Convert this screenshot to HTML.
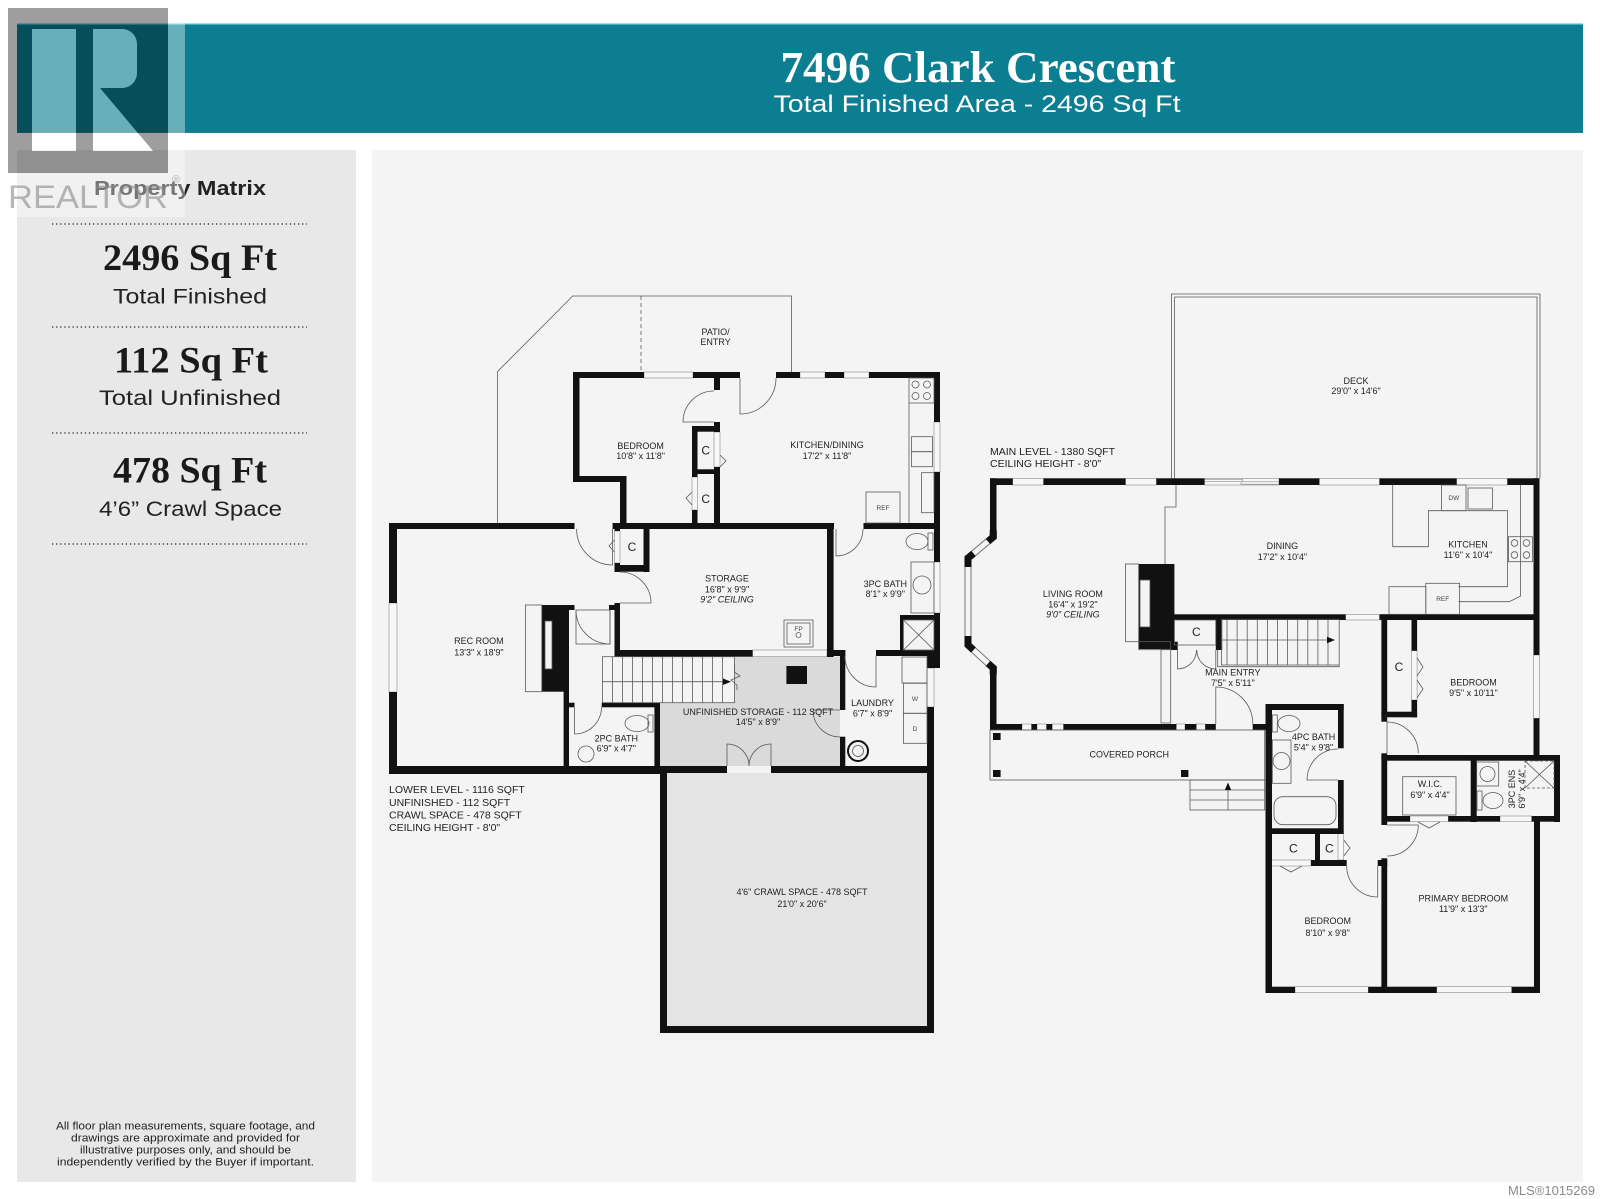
<!DOCTYPE html>
<html><head><meta charset="utf-8"><title>7496 Clark Crescent</title>
<style>
html,body{margin:0;padding:0;background:#fff;}
svg{display:block;}
.k{fill:#111;}
.t{fill:none;stroke:#5a5a5a;stroke-width:.8;}
.w{fill:#f7f7f7;stroke:#8a8a8a;stroke-width:.6;}
.l{font-family:"Liberation Sans",sans-serif;font-size:9px;fill:#222;text-anchor:middle;}
.c{font-family:"Liberation Sans",sans-serif;font-size:12px;fill:#222;text-anchor:middle;}
.s{font-family:"Liberation Sans",sans-serif;font-size:6.5px;fill:#444;text-anchor:middle;}
.i{font-style:italic;}
.info{font-family:"Liberation Sans",sans-serif;font-size:10.5px;fill:#222;}
</style></head>
<body>
<svg width="1600" height="1199" viewBox="0 0 1600 1199" xmlns="http://www.w3.org/2000/svg">
<rect width="1600" height="1199" fill="#fff"/>

<!-- header -->
<rect x="17" y="23.5" width="1566" height="109.5" fill="#0b7e92"/>
<rect x="17" y="23.5" width="1566" height="1.3" fill="#4cbccb"/>
<rect x="17" y="132" width="1566" height="1" fill="#2d7d8a"/>
<text x="978" y="82" font-family="Liberation Serif,serif" font-weight="bold" font-size="44" fill="#fff" text-anchor="middle" textLength="395" lengthAdjust="spacingAndGlyphs">7496 Clark Crescent</text>
<text x="977" y="112" font-family="Liberation Sans,sans-serif" font-size="24" fill="#fff" text-anchor="middle" textLength="407" lengthAdjust="spacingAndGlyphs">Total Finished Area - 2496 Sq Ft</text>

<!-- panels -->
<rect x="17" y="150" width="339" height="1032" fill="#e8e8e8"/>
<rect x="372" y="150" width="1211" height="1032" fill="#f4f4f4"/>

<!-- left panel text -->
<text x="180" y="195" font-family="Liberation Sans,sans-serif" font-weight="bold" font-size="20" fill="#222" text-anchor="middle" textLength="172" lengthAdjust="spacingAndGlyphs">Property Matrix</text>
<g stroke="#444" stroke-width="1.4" stroke-dasharray="1.3,2.8">
<line x1="52" y1="224" x2="307" y2="224"/>
<line x1="52" y1="327" x2="307" y2="327"/>
<line x1="52" y1="433" x2="307" y2="433"/>
<line x1="52" y1="544" x2="307" y2="544"/>
</g>
<g font-family="Liberation Serif,serif" font-weight="bold" font-size="37" fill="#1a1a1a" text-anchor="middle">
<text x="190" y="270" textLength="174" lengthAdjust="spacingAndGlyphs">2496 Sq Ft</text>
<text x="191" y="372.5" textLength="154" lengthAdjust="spacingAndGlyphs">112 Sq Ft</text>
<text x="190" y="482.5" textLength="154" lengthAdjust="spacingAndGlyphs">478 Sq Ft</text>
</g>
<g font-family="Liberation Sans,sans-serif" font-size="21" fill="#222" text-anchor="middle">
<text x="190" y="303.5" textLength="154" lengthAdjust="spacingAndGlyphs">Total Finished</text>
<text x="190" y="405" textLength="182" lengthAdjust="spacingAndGlyphs">Total Unfinished</text>
<text x="190.5" y="516" textLength="183" lengthAdjust="spacingAndGlyphs">4’6” Crawl Space</text>
</g>
<g font-family="Liberation Sans,sans-serif" font-size="11" fill="#222" text-anchor="middle">
<text x="185.5" y="1129.5" textLength="259" lengthAdjust="spacingAndGlyphs">All floor plan measurements, square footage, and</text>
<text x="185.5" y="1141.5" textLength="229" lengthAdjust="spacingAndGlyphs">drawings are approximate and provided for</text>
<text x="185.5" y="1153.5" textLength="211" lengthAdjust="spacingAndGlyphs">illustrative purposes only, and should be</text>
<text x="185.5" y="1165.5" textLength="257" lengthAdjust="spacingAndGlyphs">independently verified by the Buyer if important.</text>
</g>
<text x="1508" y="1195" font-family="Liberation Sans,sans-serif" font-size="13" fill="#8a8a8a" textLength="87" lengthAdjust="spacingAndGlyphs">MLS®1015269</text>

<!-- ================= LOWER LEVEL ================= -->
<!-- patio -->
<path class="t" d="M497.4,523 V371.7 L572.7,296 H791.5 V372"/>
<line class="t" x1="641" y1="296" x2="641" y2="372" stroke-dasharray="4,3"/>
<text class="l" x="715.6" y="335">PATIO/</text>
<text class="l" x="715.6" y="345">ENTRY</text>

<!-- fills -->
<path d="M734.4,656.7 H840 V766 H660 V702.7 H734.4 Z" fill="#dadada"/>
<rect x="667" y="773" width="260" height="253" fill="#e4e4e4"/>

<!-- windows lower -->
<rect class="w" x="644" y="372" width="49" height="6"/>
<rect class="w" x="800" y="372" width="25" height="6"/>
<rect class="w" x="844" y="372" width="25" height="6"/>
<rect class="w" x="934" y="422" width="6" height="50"/>
<rect class="w" x="389" y="603" width="8" height="89"/>
<rect class="w" x="934" y="562" width="6" height="51"/>
<rect class="w" x="927" y="668" width="7" height="39"/>
<rect class="w" x="714" y="432" width="6" height="35"/>
<rect class="w" x="692" y="477" width="5.5" height="33"/>
<rect class="w" x="752.6" y="650" width="74.4" height="6.7"/>
<rect class="w" x="614.5" y="531" width="5.5" height="32"/>

<!-- walls lower -->
<g class="k">
<rect x="573" y="372" width="71" height="6"/>
<rect x="693" y="372" width="47" height="6"/>
<rect x="776" y="372" width="24" height="6"/>
<rect x="825" y="372" width="19" height="6"/>
<rect x="869" y="372" width="71" height="6"/>
<rect x="573" y="372" width="6.5" height="110"/>
<rect x="573" y="476" width="53.5" height="6"/>
<rect x="620" y="476" width="6.5" height="50"/>
<rect x="714" y="372" width="6" height="18"/>
<rect x="714" y="422" width="6" height="10"/>
<rect x="714" y="467" width="6" height="59"/>
<rect x="692" y="426" width="5.5" height="51"/>
<rect x="692" y="510" width="5.5" height="16"/>
<rect x="692" y="426" width="28" height="5.7"/>
<rect x="692" y="469.3" width="28" height="4.7"/>
<rect x="934" y="372" width="6" height="50"/>
<rect x="934" y="472" width="6" height="54"/>
<rect x="389" y="523" width="185.5" height="6"/>
<rect x="612.6" y="523" width="221.4" height="6"/>
<rect x="863.5" y="523" width="76.5" height="6"/>
<rect x="389" y="523" width="8" height="80"/>
<rect x="389" y="692" width="8" height="82"/>
<rect x="389" y="766" width="278" height="8"/>
<rect x="660" y="766" width="7" height="267"/>
<rect x="660" y="766" width="67" height="7"/>
<rect x="771" y="766" width="163" height="7"/>
<rect x="927" y="766" width="7" height="267"/>
<rect x="660" y="1026" width="274" height="7"/>
<rect x="934" y="523" width="6" height="39"/>
<rect x="934" y="613" width="6" height="49"/>
<rect x="927" y="656" width="13" height="12"/>
<rect x="927" y="707" width="7" height="60"/>
<rect x="643.5" y="523" width="6" height="49"/>
<rect x="614.5" y="565" width="35" height="6.7"/>
<rect x="614.5" y="523" width="5.5" height="8"/>
<rect x="614.5" y="563" width="5.5" height="9"/>
<rect x="614.5" y="603" width="5.5" height="54"/>
<rect x="562" y="605" width="12.5" height="5"/>
<rect x="609" y="605" width="11" height="5"/>
<rect x="614.5" y="650" width="138" height="6.7"/>
<rect x="827" y="523" width="6.6" height="134"/>
<rect x="827" y="650" width="18.3" height="6"/>
<rect x="876" y="650" width="64" height="6"/>
<rect x="900" y="615" width="40" height="5"/>
<rect x="900" y="615" width="3.5" height="35"/>
<rect x="840" y="650" width="5.3" height="60"/>
<rect x="840" y="736.7" width="5.3" height="30"/>
<rect x="541.8" y="605" width="27.2" height="86.7"/>
<rect x="563.6" y="691" width="5.4" height="75"/>
<rect x="569" y="702.7" width="5.5" height="4.6"/>
<rect x="601.7" y="702.7" width="58.3" height="4.6"/>
<rect x="654.4" y="702.7" width="5.6" height="64"/>
<rect x="786.4" y="666" width="20.6" height="18"/>
</g>

<!-- lower fixtures -->
<g class="t">
<path d="M740,378 V414 A36,36 0 0 0 776,378"/>
<path d="M714,422 H683 A31,31 0 0 1 714,391"/>
<path d="M612.6,529 V565 A36,36 0 0 1 576.6,529"/>
<path d="M836,529 V556 A27,27 0 0 0 863,529"/>
<path d="M620,603 H651 A31,31 0 0 0 620,572"/>
<path d="M610,610 V644 A34,34 0 0 1 576,610"/>
<path d="M574.5,707.3 V734 A27,27 0 0 0 601.5,707.3"/>
<path d="M876,656 V687 A31,31 0 0 1 845,656"/>
<path d="M840,710 H813 A27,27 0 0 0 840,737"/>
<path d="M727,766 V744 A22,22 0 0 1 749,766"/>
<path d="M771,766 V744 A22,22 0 0 0 749,766"/>
<polyline points="720,455 726,461 720,467"/>
<polyline points="692,492 686,498 692,505"/>
<polyline points="614.5,540 609,546 614.5,552"/>
<rect x="909" y="378" width="25" height="25"/>
<circle cx="915.5" cy="384.5" r="3.5"/><circle cx="927" cy="384.5" r="3.5"/>
<circle cx="915.5" cy="396" r="3.5"/><circle cx="927" cy="396" r="3.5"/>
<line x1="909" y1="403" x2="909" y2="523"/>
<rect x="911.5" y="436.7" width="21" height="15"/>
<rect x="911.5" y="451.7" width="21" height="15"/>
<rect x="921.6" y="472.7" width="12.4" height="40"/>
<rect x="866" y="492" width="34" height="31"/>
<rect x="525.4" y="605" width="16.4" height="86.7"/>
<rect x="784" y="620" width="29" height="27"/>
<rect x="787" y="623" width="23" height="21"/>
<circle cx="798.5" cy="635" r="2.5"/>
<rect x="928" y="533" width="5" height="17"/>
<ellipse cx="917" cy="541.5" rx="11" ry="8"/>
<rect x="911" y="562" width="23" height="51"/>
<circle cx="922" cy="585" r="9"/>
<rect x="903.4" y="620" width="30.6" height="30"/>
<path d="M903.4,620 L934,650 M934,620 L903.4,650"/>
<rect x="902" y="657" width="25" height="26"/>
<rect x="903.4" y="683.3" width="23.6" height="30"/>
<rect x="903.4" y="713.3" width="23.6" height="30"/>
<rect x="648" y="715" width="5" height="17"/>
<ellipse cx="637" cy="723.5" rx="12" ry="8"/>
<circle cx="586" cy="754" r="8"/>
<rect x="602.5" y="656.7" width="132" height="46"/>
<path d="M612.6,656.7V702.7M622.6,656.7V702.7M632.6,656.7V702.7M642.6,656.7V702.7M652.6,656.7V702.7M662.6,656.7V702.7M672.6,656.7V702.7M682.6,656.7V702.7M692.6,656.7V702.7M702.6,656.7V702.7M712.6,656.7V702.7M722.6,656.7V702.7"/>
<line x1="602.5" y1="681.7" x2="727" y2="681.7"/>
<polyline points="734.4,664 734.4,672 740,676 731,680 737,685 737,690"/>
<rect x="576" y="610" width="34" height="34"/>
</g>
<circle cx="858" cy="751" r="10" fill="none" stroke="#111" stroke-width="2"/>
<circle cx="858" cy="751" r="5.5" fill="none" stroke="#555" stroke-width=".8"/>
<rect x="545" y="621" width="7" height="48" fill="#f4f4f4" stroke="#555" stroke-width=".8"/>
<polygon points="723,678.5 731,681.7 723,685" fill="#111"/>
<text class="s" x="883" y="510">REF</text>
<text class="s" x="915" y="701">W</text>
<text class="s" x="915" y="731">D</text>
<text class="s" x="798.5" y="631" font-size="4.5">FP</text>

<!-- lower labels -->
<text class="l" x="640.6" y="449">BEDROOM</text>
<text class="l" x="640.6" y="459">10'8" x 11'8"</text>
<text class="l" x="827" y="448">KITCHEN/DINING</text>
<text class="l" x="827" y="459">17'2" x 11'8"</text>
<text class="c" x="705.7" y="454.5">C</text>
<text class="c" x="705.7" y="502.8">C</text>
<text class="c" x="632" y="551">C</text>
<text class="l" x="478.9" y="644">REC ROOM</text>
<text class="l" x="478.9" y="655.5">13'3" x 18'9"</text>
<text class="l" x="727" y="581.5">STORAGE</text>
<text class="l" x="727" y="592.5">16'8" x 9'9"</text>
<text class="l i" x="727" y="602.5">9'2" CEILING</text>
<text class="l" x="885.3" y="587">3PC BATH</text>
<text class="l" x="885.3" y="597">8'1" x 9'9"</text>
<text class="l" x="758" y="715">UNFINISHED STORAGE - 112 SQFT</text>
<text class="l" x="758" y="725">14'5" x 8'9"</text>
<text class="l" x="872.5" y="706">LAUNDRY</text>
<text class="l" x="872.5" y="716.5">6'7" x 8'9"</text>
<text class="l" x="616.3" y="741.5">2PC BATH</text>
<text class="l" x="616.3" y="751.5">6'9" x 4'7"</text>
<text class="l" x="802" y="895">4'6" CRAWL SPACE - 478 SQFT</text>
<text class="l" x="802" y="907">21'0" x 20'6"</text>
<text class="info" x="389" y="793">LOWER LEVEL - 1116 SQFT</text>
<text class="info" x="389" y="806">UNFINISHED - 112 SQFT</text>
<text class="info" x="389" y="818.5">CRAWL SPACE - 478 SQFT</text>
<text class="info" x="389" y="831">CEILING HEIGHT - 8'0"</text>

<!-- ================= MAIN LEVEL ================= -->
<!-- deck (double line) -->
<path class="t" d="M1171.4,478.3 V294 H1540 V478.3"/>
<path class="t" d="M1174.6,478.3 V297 H1537 V478.3"/>
<text class="l" x="1356" y="384">DECK</text>
<text class="l" x="1356" y="394">29'0" x 14'6"</text>
<text class="info" x="990" y="455">MAIN LEVEL - 1380 SQFT</text>
<text class="info" x="990" y="467">CEILING HEIGHT - 8'0"</text>

<!-- windows main -->
<rect class="w" x="1012.7" y="478.3" width="30.8" height="6.7"/>
<rect class="w" x="1125.5" y="478.3" width="30.9" height="6.7"/>
<rect class="w" x="1319.3" y="478.3" width="60.2" height="6.7"/>
<rect class="w" x="1456.6" y="478.3" width="50.8" height="6.7"/>
<rect class="w" x="1204.5" y="478.3" width="74.5" height="6.7"/>
<rect class="w" x="1204.5" y="479.3" width="38" height="2.4"/>
<rect class="w" x="1241" y="481.8" width="38" height="2.4"/>
<rect class="w" x="1533.5" y="655" width="6" height="63.3"/>
<rect class="w" x="1022" y="724" width="9.5" height="6"/>
<rect class="w" x="1037" y="724" width="9.5" height="6"/>
<rect class="w" x="1052.2" y="724" width="11.3" height="6"/>
<rect class="w" x="1176.3" y="724" width="8.7" height="6"/>
<rect class="w" x="1196.3" y="724" width="9" height="6"/>
<rect class="w" x="1345.6" y="614.3" width="33.9" height="5.7"/>
<rect class="w" x="1295" y="986.7" width="73.3" height="6"/>
<rect class="w" x="1436.7" y="986.7" width="75" height="6"/>
<rect class="w" x="1500" y="816" width="31.7" height="5.7"/>
<rect class="w" x="1410" y="816" width="38.3" height="5.7"/>
<rect class="w" x="1271.7" y="860" width="39.3" height="6"/>
<rect class="w" x="1411.5" y="650.7" width="5.6" height="49.3"/>
<rect class="w" x="1338" y="830" width="5.7" height="30"/>

<!-- bay -->
<polyline points="993.25,532 993.25,537 968,558 968,645 993.25,668 993.25,673" fill="none" stroke="#777" stroke-width="7"/>
<polyline points="993.25,532 993.25,537 968,558 968,645 993.25,668 993.25,673" fill="none" stroke="#f6f6f6" stroke-width="5"/>
<g fill="none" stroke="#111" stroke-width="7" stroke-linejoin="miter">
<polyline points="993.25,530 993.25,537 988,541.5"/>
<polyline points="973.5,553.5 968,558 968,567"/>
<polyline points="968,636 968,645 973.5,650"/>
<polyline points="988,663.5 993.25,668 993.25,675"/>
</g>

<!-- walls main -->
<g class="k">
<rect x="990" y="478.3" width="22.7" height="6.7"/>
<rect x="1043.5" y="478.3" width="82" height="6.7"/>
<rect x="1156.4" y="478.3" width="48.1" height="6.7"/>
<rect x="1279" y="478.3" width="40.3" height="6.7"/>
<rect x="1379.5" y="478.3" width="77.1" height="6.7"/>
<rect x="1507.4" y="478.3" width="32" height="6.7"/>
<rect x="990" y="478.3" width="6.5" height="57"/>
<rect x="990" y="670" width="6.5" height="60"/>
<rect x="990" y="724" width="32" height="6"/>
<rect x="1031.5" y="724" width="5.5" height="6"/>
<rect x="1046.5" y="724" width="5.7" height="6"/>
<rect x="1063.5" y="724" width="112.8" height="6"/>
<rect x="1185" y="724" width="11.3" height="6"/>
<rect x="1205.3" y="724" width="10.5" height="6"/>
<rect x="1252.7" y="724" width="19.6" height="6"/>
<rect x="1138.7" y="564" width="35.7" height="85"/>
<rect x="1170.7" y="614.3" width="174.9" height="5.7"/>
<rect x="1379.5" y="614.3" width="160" height="5.7"/>
<rect x="1533.5" y="478.3" width="6" height="176.7"/>
<rect x="1533.5" y="718.3" width="6" height="42.4"/>
<rect x="1215.8" y="620" width="6.4" height="30"/>
<rect x="1170.7" y="641.7" width="7" height="8.3"/>
<rect x="1381.4" y="614.3" width="5.8" height="107.4"/>
<rect x="1381.4" y="753.3" width="5.8" height="71.7"/>
<rect x="1381.4" y="858.3" width="5.8" height="134.7"/>
<rect x="1411.5" y="620" width="5.6" height="30.7"/>
<rect x="1411.5" y="700" width="5.6" height="17.3"/>
<rect x="1381.4" y="711.7" width="35.7" height="5.6"/>
<rect x="1381.4" y="755" width="178.6" height="5.7"/>
<rect x="1470.7" y="755" width="6" height="67"/>
<rect x="1554" y="755" width="6" height="67"/>
<rect x="1381.7" y="816" width="28.3" height="5.7"/>
<rect x="1448.3" y="816" width="51.7" height="5.7"/>
<rect x="1531.7" y="816" width="28.3" height="5.7"/>
<rect x="1534" y="816" width="6" height="177"/>
<rect x="1381.7" y="986.7" width="55" height="6.3"/>
<rect x="1511.7" y="986.7" width="28.3" height="6.3"/>
<rect x="1265.5" y="704" width="6.5" height="289"/>
<rect x="1265.5" y="986.7" width="29.5" height="6.3"/>
<rect x="1368.3" y="986.7" width="19" height="6.3"/>
<rect x="1311" y="860" width="35.7" height="6"/>
<rect x="1377.7" y="860" width="9.5" height="6"/>
<rect x="1265.5" y="704" width="78.2" height="6"/>
<rect x="1338" y="704" width="5.7" height="44.3"/>
<rect x="1338" y="780" width="5.7" height="50"/>
<rect x="1265.5" y="828.3" width="78" height="5.7"/>
<rect x="1315" y="834" width="5" height="26"/>
</g>

<!-- main fixtures -->
<g class="t">
<path d="M1176,485 V507 H1165 V564"/>
<rect x="1161" y="649.3" width="9.7" height="73.7"/>
<rect x="1125.5" y="564" width="13.2" height="77.7"/>
<rect x="1138.7" y="641.7" width="32" height="8"/>
<rect x="990" y="730" width="274.7" height="50"/>
<rect x="1190" y="780" width="74.7" height="30"/>
<path d="M1190,790 H1264.7 M1190,800 H1264.7 M1228,810 V786"/>
<rect x="1221.5" y="619.3" width="117.7" height="45.7"/>
<path d="M1217.7,650 V666.7 H1339.2 V665"/>
<path d="M1227,620V665M1237.1,620V665M1247.2,620V665M1257.3,620V665M1267.4,620V665M1277.5,620V665M1287.6,620V665M1297.7,620V665M1307.8,620V665M1317.9,620V665M1328,620V665"/>
<line x1="1221.5" y1="640" x2="1328" y2="640"/>
<rect x="1174.4" y="620" width="41.4" height="25"/>
<path d="M1177.5,650 V669 A19,19 0 0 0 1196.5,650"/>
<path d="M1215.8,650 V669 A19,19 0 0 1 1196.8,650"/>
<path d="M1215.8,724 V687 A37,37 0 0 1 1252.8,724"/>
<path d="M1387,753.3 V722 A31.3,31.3 0 0 1 1418.3,753.3"/>
<path d="M1338,780 H1307 A31,31 0 0 1 1338,749"/>
<path d="M1377.7,866 V897 A31,31 0 0 1 1346.7,866"/>
<path d="M1387.3,825 H1418.3 A31,31 0 0 1 1387.3,856"/>
<polyline points="1417,658 1423,667 1417,676"/>
<polyline points="1417,680 1423,689 1417,698"/>
<polyline points="1418,822 1429,828 1440,822"/>
<polyline points="1280,866 1291,872 1302,866"/>
<polyline points="1343.7,840 1350,848 1343.7,856"/>
<path d="M1392.7,485 V546.7 H1428.4 V510.7 H1507.4 V586.7 H1458.5"/>
<path d="M1520.6,485 V596 L1509.3,601.7 H1458.5"/>
<rect x="1441.6" y="485" width="24.4" height="25.7"/>
<rect x="1468" y="488" width="24.4" height="21"/>
<rect x="1508.5" y="536.7" width="24" height="25"/>
<circle cx="1514.5" cy="543" r="3.3"/><circle cx="1526.5" cy="543" r="3.3"/>
<circle cx="1514.5" cy="555" r="3.3"/><circle cx="1526.5" cy="555" r="3.3"/>
<rect x="1425.8" y="583.3" width="33.8" height="31"/>
<rect x="1389" y="586.7" width="36.8" height="27.6"/>
<rect x="1272.3" y="715" width="5" height="17"/>
<ellipse cx="1289" cy="723.5" rx="11" ry="8"/>
<rect x="1272.3" y="740" width="18.7" height="43.3"/>
<circle cx="1281.5" cy="761" r="8.5"/>
<rect x="1274" y="796.7" width="62" height="28" rx="9"/>
<rect x="1402.7" y="776.7" width="53.3" height="38.3"/>
<rect x="1476.7" y="762" width="22" height="24"/>
<circle cx="1487.5" cy="774" r="7.5"/>
<rect x="1477" y="791" width="5" height="19"/>
<ellipse cx="1493" cy="800.5" rx="10" ry="8"/>
<rect x="1525" y="761" width="29" height="27" stroke-dasharray="3,2"/>
<path d="M1525,761 L1554,788 M1554,761 L1525,788"/>
</g>
<rect x="1140" y="580" width="10" height="47" fill="#f4f4f4" stroke="#555" stroke-width=".8"/>
<g fill="#111">
<rect x="993" y="733" width="7.6" height="7"/>
<rect x="993" y="770" width="7.6" height="7"/>
<rect x="1181" y="770" width="7.4" height="7"/>
<polygon points="1327,636.8 1335,640 1327,643.2"/>
<polygon points="1224.8,790 1228,782.5 1231.2,790"/>
</g>
<text class="s" x="1453.8" y="500">DW</text>
<text class="s" x="1442.7" y="601">REF</text>

<!-- main labels -->
<text class="l" x="1282.4" y="549">DINING</text>
<text class="l" x="1282.4" y="560">17'2" x 10'4"</text>
<text class="l" x="1468" y="547.5">KITCHEN</text>
<text class="l" x="1468" y="558">11'6" x 10'4"</text>
<text class="l" x="1072.9" y="597">LIVING ROOM</text>
<text class="l" x="1072.9" y="607.5">16'4" x 19'2"</text>
<text class="l i" x="1072.9" y="617.5">9'0" CEILING</text>
<text class="c" x="1196.3" y="636">C</text>
<text class="l" x="1232.8" y="675.5">MAIN ENTRY</text>
<text class="l" x="1232.8" y="686">7'5" x 5'11"</text>
<text class="c" x="1399" y="671">C</text>
<text class="l" x="1473.5" y="685.5">BEDROOM</text>
<text class="l" x="1473.5" y="696">9'5" x 10'11"</text>
<text class="l" x="1129.3" y="757.5">COVERED PORCH</text>
<text class="l" x="1313.6" y="740">4PC BATH</text>
<text class="l" x="1313.6" y="750.5">5'4" x 9'8"</text>
<text class="l" x="1430" y="787">W.I.C.</text>
<text class="l" x="1430" y="798">6'9" x 4'4"</text>
<text class="l" transform="translate(1515,789) rotate(-90)" x="0" y="0">3PC ENS</text>
<text class="l" transform="translate(1525,789) rotate(-90)" x="0" y="0">6'9" x 4'4"</text>
<text class="c" x="1293.3" y="852.5">C</text>
<text class="c" x="1329.3" y="852.5">C</text>
<text class="l" x="1463.3" y="901.5">PRIMARY BEDROOM</text>
<text class="l" x="1463.3" y="912">11'9" x 13'3"</text>
<text class="l" x="1327.7" y="924">BEDROOM</text>
<text class="l" x="1327.7" y="936">8'10" x 9'8"</text>

<!-- REALTOR logo overlay -->
<rect x="168" y="0" width="17" height="217" fill="#fff" fill-opacity=".38"/>
<rect x="0" y="173" width="168" height="44" fill="#fff" fill-opacity=".38"/>
<path fill-rule="evenodd" fill="#000" fill-opacity=".38" d="M8,8H168V173H8Z M32,29H76V151H32Z M93,29H122A15,15 0 0 1 137,44V73A15,15 0 0 1 122,88H100L153,151H93Z"/>
<path fill="#fff" fill-opacity=".38" d="M32,29H76V151H32Z M93,29H122A15,15 0 0 1 137,44V73A15,15 0 0 1 122,88H100L153,151H93Z"/>
<text x="8" y="208" font-family="Liberation Sans,sans-serif" font-size="32" fill="#888" fill-opacity=".6" textLength="160" lengthAdjust="spacingAndGlyphs">REALTOR</text>
<text x="172" y="183" font-family="Liberation Sans,sans-serif" font-size="11" fill="#999" fill-opacity=".7">®</text>
</svg>
</body></html>
